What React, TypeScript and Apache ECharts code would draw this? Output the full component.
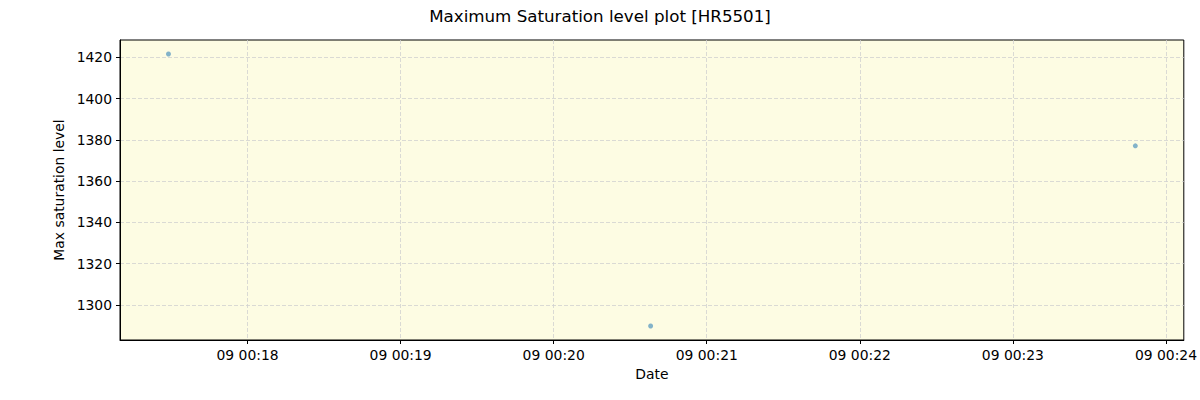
import { useEffect, useRef } from "react";
import * as echarts from "echarts";

// readings taken on the 9th, local time
const pointTimes = [
  new Date(2024, 0, 9, 0, 17, 29.7).getTime(),
  new Date(2024, 0, 9, 0, 20, 38.7).getTime(),
  new Date(2024, 0, 9, 0, 23, 48).getTime()
];
const pointValues = [1421.6, 1289.8, 1377.1];

const xTickMinutes = [18, 19, 20, 21, 22, 23, 24];
const yTicks = [1300, 1320, 1340, 1360, 1380, 1400, 1420];

const xMin = new Date(2024, 0, 9, 0, 17, 10.6).getTime();
const xMax = new Date(2024, 0, 9, 0, 24, 7.3).getTime();
const yMin = 1283;
const yMax = 1428.4;

const pad = (n: number) => String(n).padStart(2, "0");

export default function App() {
  const ref = useRef<HTMLDivElement | null>(null);

  useEffect(() => {
    document.body.style.margin = "0";
    document.documentElement.style.overflow = "hidden";
    if (!ref.current) {
      return;
    }
    const instance = echarts.init(ref.current, null, { renderer: "svg" });
    const xTicks = xTickMinutes.map((m) => new Date(2024, 0, 9, 0, m, 0).getTime());
    const font = "DejaVu Sans";
    const gridLine = { show: true, lineStyle: { color: "#d0d0d0", type: [4, 2] as number[], width: 0.8 } };

    instance.setOption({
      animation: false,
      backgroundColor: "#ffffff",
      textStyle: { fontFamily: font },
      title: {
        text: "Maximum Saturation level plot [HR5501]",
        left: "center",
        top: 2,
        textStyle: { fontFamily: font, fontSize: 16.7, fontWeight: "normal", color: "#000" }
      },
      grid: {
        left: 120,
        right: 11,
        top: 40,
        bottom: 60,
        show: true,
        backgroundColor: "#fdfce3",
        borderColor: "#000",
        borderWidth: 1
      },
      xAxis: {
        type: "value",
        min: xMin,
        max: xMax,
        name: "Date",
        nameLocation: "middle",
        nameGap: 27,
        nameTextStyle: { fontFamily: font, fontSize: 13.9, color: "#000" },
        axisLine: { show: true, lineStyle: { color: "#000", width: 1 } },
        axisTick: { show: true, length: 4, customValues: xTicks, lineStyle: { color: "#000" } },
        axisLabel: {
          customValues: xTicks,
          fontFamily: font,
          fontSize: 13.9,
          color: "#000",
          margin: 8,
          formatter: (v: number) => {
            const d = new Date(v);
            return `${pad(d.getDate())} ${pad(d.getHours())}:${pad(d.getMinutes())}`;
          }
        },
        splitLine: gridLine
      },
      yAxis: {
        type: "value",
        min: yMin,
        max: yMax,
        name: "Max saturation level",
        nameLocation: "middle",
        nameGap: 52,
        nameTextStyle: { fontFamily: font, fontSize: 13.9, color: "#000" },
        axisLine: { show: true, lineStyle: { color: "#000", width: 1 } },
        axisTick: { show: true, length: 4, customValues: yTicks, lineStyle: { color: "#000" } },
        axisLabel: {
          customValues: yTicks,
          fontFamily: font,
          fontSize: 13.9,
          color: "#000",
          margin: 8,
          formatter: (v: number) => String(v)
        },
        splitLine: gridLine
      },
      series: [
        {
          name: "Max saturation level",
          type: "scatter",
          data: pointTimes.map((t, i) => [t, pointValues[i]]),
          symbolSize: 5,
          itemStyle: { color: "#1f77b4", opacity: 0.55 }
        }
      ]
    });

    return () => {
      instance.dispose();
    };
  }, []);

  return (
    <div
      ref={ref}
      style={{ position: "fixed", left: 0, top: 0, width: 1200, height: 400 }}
    />
  );
}
